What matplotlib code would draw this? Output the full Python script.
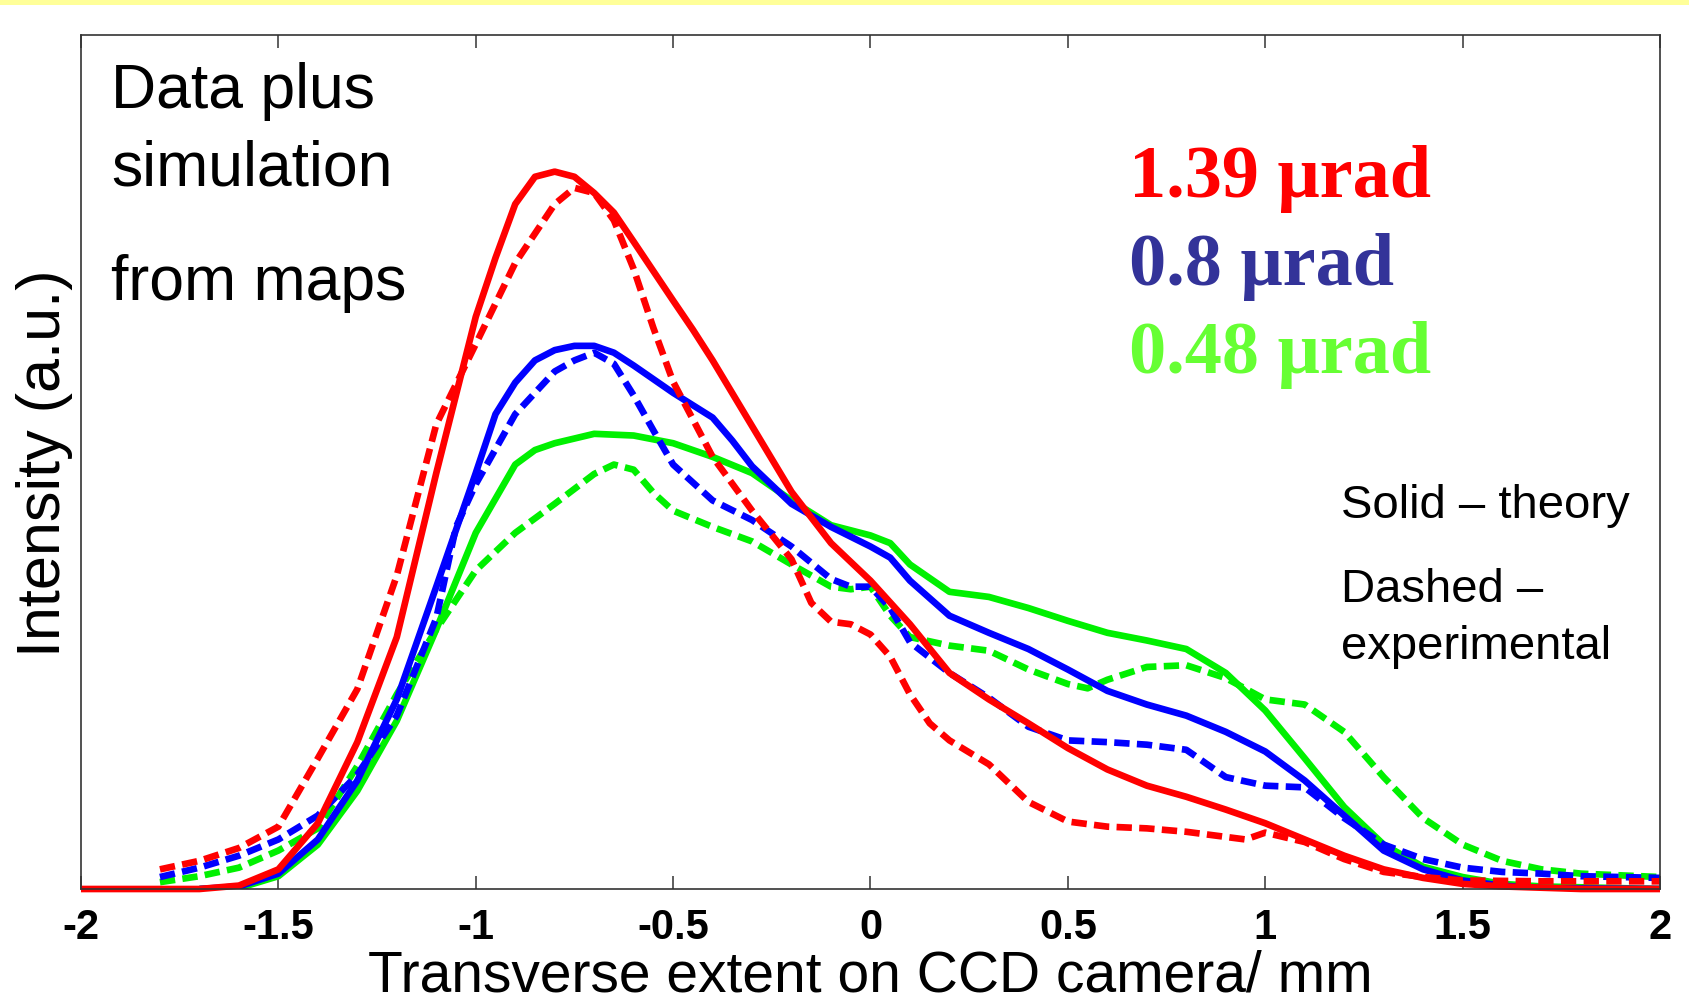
# intensity profiles: theory vs experiment for three divergences

import matplotlib
matplotlib.use("Agg")
import matplotlib.pyplot as plt
from matplotlib.patches import Rectangle

# transverse position (mm) and intensity (a.u.)
red_th_x = [-2.0, -1.9, -1.8, -1.7, -1.6, -1.5, -1.4, -1.3, -1.2, -1.1, -1.0, -0.95, -0.9, -0.85,
            -0.8, -0.75, -0.7, -0.65, -0.6, -0.5, -0.45, -0.4, -0.3, -0.2, -0.1, 0.0, 0.1, 0.2, 0.3,
            0.4, 0.5, 0.6, 0.7, 0.8, 0.9, 1.0, 1.1, 1.2, 1.3, 1.4, 1.5, 1.6, 1.8, 2.0]
red_th_y = [0.0, 0.0, 0.0, 0.0, 0.004, 0.023, 0.077, 0.172, 0.295, 0.487, 0.670, 0.739, 0.802, 0.834,
            0.840, 0.834, 0.815, 0.792, 0.758, 0.689, 0.655, 0.619, 0.542, 0.465, 0.405, 0.361, 0.310, 0.253, 0.222,
            0.194, 0.165, 0.140, 0.121, 0.108, 0.093, 0.077, 0.058, 0.039, 0.023, 0.013, 0.006, 0.003, 0.0, 0.0]

red_ex_x = [-1.8, -1.7, -1.6, -1.5, -1.4, -1.3, -1.2, -1.1, -1.0, -0.9, -0.8, -0.75, -0.7, -0.65,
            -0.6, -0.55, -0.5, -0.4, -0.3, -0.2, -0.15, -0.1, -0.05, 0.0, 0.05, 0.1, 0.15, 0.2,
            0.3, 0.4, 0.5, 0.6, 0.7, 0.8, 0.9, 0.95, 1.0, 1.1, 1.2, 1.3, 1.4, 1.5, 1.7, 2.0]
red_ex_y = [0.023, 0.033, 0.048, 0.073, 0.153, 0.234, 0.367, 0.544, 0.638, 0.733, 0.802, 0.821, 0.815, 0.783,
            0.726, 0.657, 0.594, 0.506, 0.443, 0.386, 0.335, 0.313, 0.310, 0.298, 0.272, 0.228, 0.194, 0.174,
            0.146, 0.102, 0.079, 0.073, 0.071, 0.067, 0.061, 0.058, 0.066, 0.055, 0.035, 0.020, 0.014, 0.010, 0.009, 0.009]

blue_th_x = [-1.7, -1.6, -1.5, -1.4, -1.3, -1.2, -1.1, -1.0, -0.95, -0.9, -0.85, -0.8, -0.75, -0.7,
             -0.65, -0.6, -0.5, -0.4, -0.35, -0.3, -0.2, -0.1, 0.0, 0.05, 0.1, 0.2, 0.3, 0.4, 0.5,
             0.6, 0.7, 0.8, 0.9, 1.0, 1.1, 1.2, 1.3, 1.4, 1.5, 1.6, 1.7, 2.0]
blue_th_y = [0.0, 0.003, 0.018, 0.058, 0.127, 0.222, 0.354, 0.487, 0.556, 0.593, 0.619, 0.631, 0.636, 0.636,
             0.628, 0.613, 0.581, 0.552, 0.525, 0.495, 0.451, 0.424, 0.401, 0.388, 0.361, 0.320, 0.300, 0.281, 0.257,
             0.232, 0.216, 0.203, 0.184, 0.161, 0.127, 0.086, 0.045, 0.023, 0.010, 0.004, 0.001, 0.0]

blue_ex_x = [-1.8, -1.7, -1.6, -1.5, -1.4, -1.3, -1.2, -1.1, -1.05, -1.0, -0.9, -0.8, -0.75, -0.7,
             -0.65, -0.6, -0.55, -0.5, -0.4, -0.3, -0.2, -0.1, -0.05, 0.0, 0.05, 0.1, 0.2, 0.3,
             0.4, 0.5, 0.6, 0.7, 0.8, 0.9, 1.0, 1.1, 1.2, 1.3, 1.4, 1.5, 1.6, 1.7, 1.8, 2.0]
blue_ex_y = [0.014, 0.025, 0.039, 0.058, 0.086, 0.134, 0.203, 0.317, 0.424, 0.474, 0.556, 0.606, 0.619, 0.628,
             0.615, 0.578, 0.537, 0.497, 0.455, 0.432, 0.401, 0.363, 0.354, 0.354, 0.329, 0.289, 0.253, 0.224,
             0.190, 0.174, 0.172, 0.169, 0.163, 0.131, 0.121, 0.119, 0.083, 0.052, 0.035, 0.025, 0.020, 0.018, 0.015, 0.013]

green_th_x = [-1.7, -1.6, -1.5, -1.4, -1.3, -1.2, -1.1, -1.0, -0.9, -0.85, -0.8, -0.7, -0.6, -0.5,
              -0.4, -0.3, -0.2, -0.1, 0.0, 0.05, 0.1, 0.2, 0.3, 0.4, 0.5, 0.6, 0.7, 0.8,
              0.9, 1.0, 1.1, 1.2, 1.3, 1.4, 1.5, 1.6, 1.7, 2.0]
green_th_y = [0.0, 0.001, 0.015, 0.052, 0.115, 0.197, 0.304, 0.417, 0.497, 0.514, 0.522, 0.533, 0.531, 0.522,
              0.506, 0.487, 0.455, 0.426, 0.414, 0.405, 0.380, 0.348, 0.342, 0.329, 0.314, 0.300, 0.291, 0.281,
              0.253, 0.209, 0.153, 0.096, 0.052, 0.026, 0.014, 0.006, 0.003, 0.0]

green_ex_x = [-1.8, -1.7, -1.6, -1.5, -1.4, -1.3, -1.2, -1.1, -1.0, -0.9, -0.8, -0.7, -0.65, -0.6,
              -0.55, -0.5, -0.4, -0.3, -0.2, -0.1, -0.05, 0.0, 0.05, 0.1, 0.2, 0.3, 0.4, 0.5,
              0.55, 0.6, 0.7, 0.8, 0.9, 1.0, 1.1, 1.2, 1.3, 1.4, 1.5, 1.6, 1.7, 1.8, 2.0]
green_ex_y = [0.008, 0.015, 0.025, 0.045, 0.071, 0.144, 0.228, 0.304, 0.373, 0.417, 0.451, 0.486, 0.497, 0.491,
              0.464, 0.443, 0.424, 0.407, 0.380, 0.354, 0.351, 0.354, 0.320, 0.295, 0.285, 0.279, 0.257, 0.240,
              0.235, 0.245, 0.260, 0.262, 0.247, 0.222, 0.216, 0.184, 0.131, 0.083, 0.052, 0.033, 0.023, 0.018, 0.014]

xticks = [-2, -1.5, -1, -0.5, 0, 0.5, 1, 1.5, 2]
xtick_labels = ["-2", "-1.5", "-1", "-0.5", "0", "0.5", "1", "1.5", "2"]

RED, BLUE, GREEN = "#ff0000", "#0000ff", "#00f000"
DASH = (0, (2.3, 1.1))
LW = 4.8

plt.rcParams["font.family"] = ["Liberation Sans", "DejaVu Sans"]

fig = plt.figure(figsize=(16.9, 10.03), dpi=100)
fig.patches.append(Rectangle((0, 1 - 6 / 1003), 1, 6 / 1003, transform=fig.transFigure,
                             facecolor="#ffff99", edgecolor="none", zorder=0))
ax = fig.add_axes([81 / 1690, 113 / 1003, 1579 / 1690, 854 / 1003])

ax.plot(green_th_x, green_th_y, color=GREEN, lw=LW, solid_capstyle="butt")
ax.plot(green_ex_x, green_ex_y, color=GREEN, lw=LW, ls=DASH, dash_capstyle="butt")
ax.plot(blue_th_x, blue_th_y, color=BLUE, lw=LW, solid_capstyle="butt")
ax.plot(blue_ex_x, blue_ex_y, color=BLUE, lw=LW, ls=DASH, dash_capstyle="butt")
ax.plot(red_th_x, red_th_y, color=RED, lw=LW, solid_capstyle="butt", clip_on=False)
ax.plot(red_ex_x, red_ex_y, color=RED, lw=LW, ls=DASH, dash_capstyle="butt")

ax.set_xlim(-2, 2)
ax.set_ylim(0, 1)
ax.set_xticks(xticks)
ax.set_xticklabels(xtick_labels, fontsize=30, fontweight="bold")
ax.set_yticks([])
ax.tick_params(axis="x", direction="in", length=9.5, width=1.1, top=True, pad=13, color="#333333")
for sp in ax.spines.values():
    sp.set_linewidth(1.2)
    sp.set_color("#333333")

ax.set_xlabel("Transverse extent on CCD camera/ mm", fontsize=41, labelpad=1)
ax.set_ylabel("Intensity (a.u.)", fontsize=44, labelpad=6)

# annotations
ax.text(0.019, 0.9155, "Data plus", transform=ax.transAxes, fontsize=45, va="baseline")
ax.text(0.019, 0.8247, "simulation", transform=ax.transAxes, fontsize=45, va="baseline")
ax.text(0.019, 0.691, "from maps", transform=ax.transAxes, fontsize=45, va="baseline")

serif = ["Liberation Serif", "DejaVu Serif"]
ax.text(0.664, 0.811, "1.39 \u03bcrad", transform=ax.transAxes, fontsize=53.5,
        family=serif, fontweight="bold", color="#ff0000", va="baseline")
ax.text(0.664, 0.709, "0.8 \u03bcrad", transform=ax.transAxes, fontsize=53.5,
        family=serif, fontweight="bold", color="#333399", va="baseline")
ax.text(0.664, 0.605, "0.48 \u03bcrad", transform=ax.transAxes, fontsize=53.5,
        family=serif, fontweight="bold", color="#66ff33", va="baseline")

ax.text(0.798, 0.436, "Solid \u2013 theory", transform=ax.transAxes, fontsize=34, va="baseline")
ax.text(0.798, 0.337, "Dashed \u2013", transform=ax.transAxes, fontsize=34, va="baseline")
ax.text(0.798, 0.270, "experimental", transform=ax.transAxes, fontsize=34, va="baseline")

fig.savefig("out.png", dpi=100)
